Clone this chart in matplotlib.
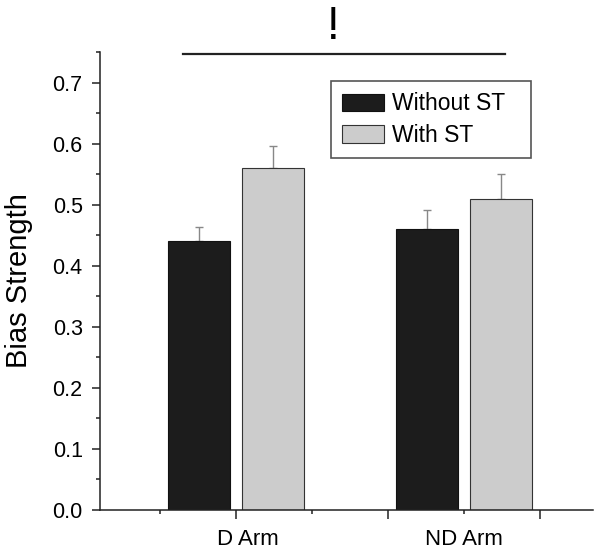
import numpy as np
import matplotlib.pyplot as plt
from matplotlib.ticker import MultipleLocator
from matplotlib.transforms import ScaledTranslation

plt.rcParams['font.family'] = ['Liberation Sans', 'DejaVu Sans']

# Data
categories = ['D Arm', 'ND Arm']
catPos = [1.0, 2.5]
withoutST = [0.44, 0.46]
withST = [0.56, 0.51]
errWithout = [0.023, 0.031]
errWith = [0.036, 0.041]

barWidth = 0.41
offset = 0.245

fig = plt.figure(figsize=(6.01, 5.54), dpi=100)
ax = fig.add_axes([0.1664, 0.0794, 0.8203, 0.8267])

pos = np.array(catPos)
ax.bar(pos - offset, withoutST, barWidth, color='#1c1c1c', edgecolor='#111111',
       linewidth=0.8, label='Without ST', zorder=2)
ax.bar(pos + offset, withST, barWidth, color='#cccccc', edgecolor='#333333',
       linewidth=0.8, label='With ST', zorder=2)
ax.errorbar(pos - offset, withoutST, yerr=[np.zeros(2), errWithout], fmt='none',
            ecolor='#888888', elinewidth=1.0, capsize=3, capthick=1.0, zorder=1)
ax.errorbar(pos + offset, withST, yerr=[np.zeros(2), errWith], fmt='none',
            ecolor='#888888', elinewidth=1.0, capsize=3, capthick=1.0, zorder=1)

ax.set_xlim(0.105, 3.35)
ax.set_ylim(0, 0.75)

for side in ['top', 'right']:
    ax.spines[side].set_visible(False)
for side in ['left', 'bottom']:
    ax.spines[side].set_linewidth(1.1)
    ax.spines[side].set_color('#222222')

ax.yaxis.set_major_locator(MultipleLocator(0.1))
ax.yaxis.set_minor_locator(MultipleLocator(0.05))
ax.yaxis.set_major_formatter(plt.FormatStrFormatter('%.1f'))
ax.tick_params(axis='y', which='major', length=6, width=1.1, labelsize=15.5,
               pad=6.5, color='#222222')
ax.tick_params(axis='y', which='minor', length=3, width=1.1, color='#222222')

ax.set_xticks([1, 2, 3], labels=[categories[0], '', ''])
ax.set_xticks([0.5, 1.5, 2.5], labels=['', '', categories[1]], minor=True)
ax.tick_params(axis='x', which='major', length=6.5, width=1.1, labelsize=16,
               pad=7, color='#222222')
ax.tick_params(axis='x', which='minor', length=3, width=1.1, labelsize=16,
               pad=10.5, color='#222222')
# the D Arm label sits a little right of its tick in the original
shift = ScaledTranslation(12 / 100, 0, fig.dpi_scale_trans)
for lab in ax.get_xticklabels():
    lab.set_transform(lab.get_transform() + shift)

ax.set_ylabel('Bias Strength', fontsize=21, labelpad=14)

# significance bar
ax.plot([0.65, 2.77], [0.7475, 0.7475], color='#222222', linewidth=1.6,
        clip_on=False)
ax.text(1.64, 0.755, '!', fontsize=33, ha='center', va='bottom', clip_on=False)

leg = ax.legend(loc='upper left', bbox_to_anchor=(0.4686, 0.837, 0.4057, 0.1),
                mode='expand', borderaxespad=0,
                fontsize=16.5, fancybox=False, edgecolor='#555555',
                handlelength=1.8, handleheight=0.8, handletextpad=0.35,
                borderpad=0.5, labelspacing=0.38, framealpha=1)
leg.get_frame().set_linewidth(1.2)

fig.savefig('out.png', dpi=100)
